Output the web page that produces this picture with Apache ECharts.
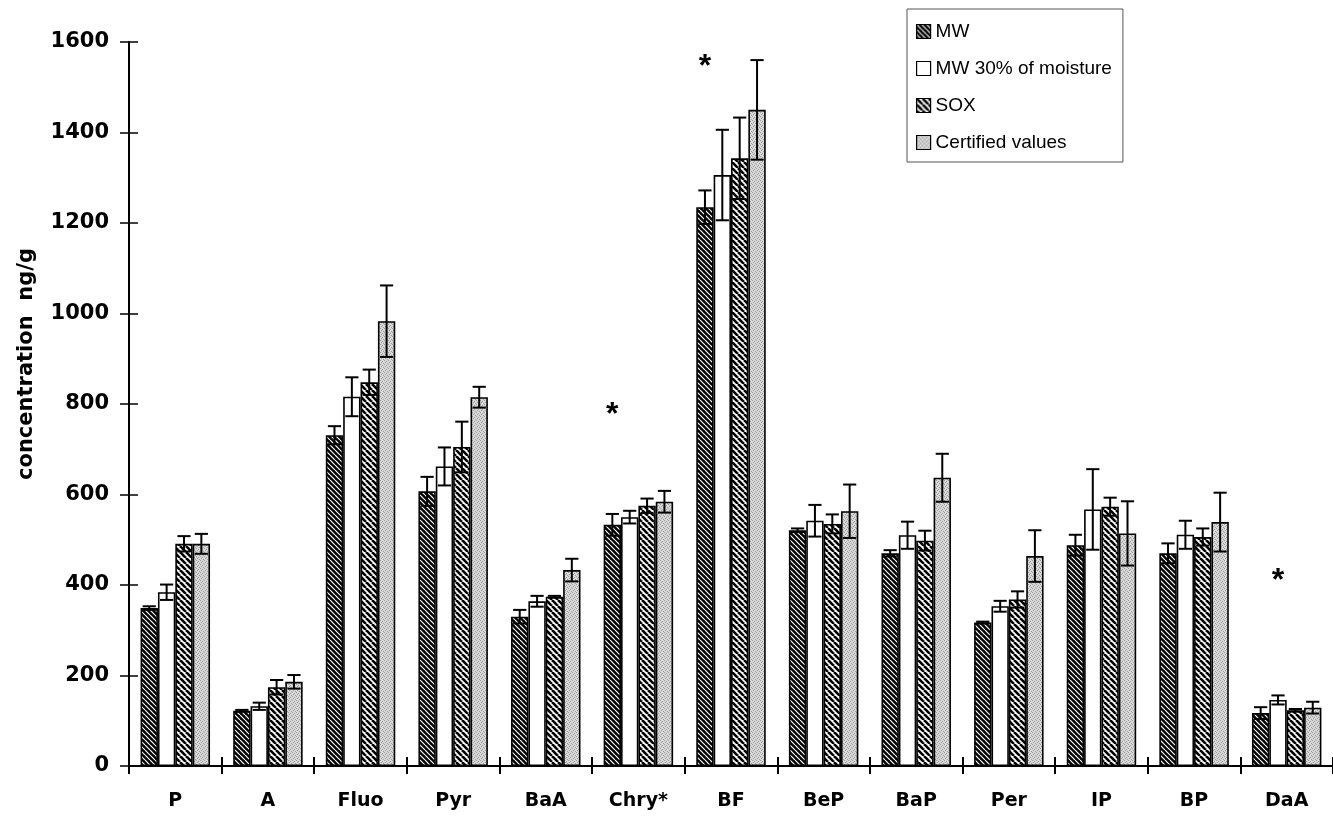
<!DOCTYPE html>
<html>
<head>
<meta charset="utf-8">
<script src="https://cdn.jsdelivr.net/npm/echarts@6/dist/echarts.min.js"></script>
<style>
  html, body { margin: 0; padding: 0; background: #fff; }
  #chart { width: 1333px; height: 817px; }
</style>
</head>
<body>
<div id="chart"></div>
<script>
// PAH concentrations (ng/g) by extraction method, with standard deviations
const categories = ['P', 'A', 'Fluo', 'Pyr', 'BaA', 'Chry*', 'BF', 'BeP', 'BaP', 'Per', 'IP', 'BP', 'DaA'];
const seriesNames = ['MW', 'MW 30% of moisture', 'SOX', 'Certified values'];

const mwValues    = [349, 122, 731, 607, 330, 533, 1235, 521, 470, 317, 488, 470, 117];
const mwErrors    = [4, 2, 20, 32, 15, 24, 37, 4, 7, 2, 23, 22, 13];
const moistValues = [384, 132, 816, 662, 364, 550, 1306, 542, 510, 353, 567, 511, 146];
const moistErrors = [17, 8, 43, 42, 12, 14, 100, 35, 30, 12, 89, 31, 10];
const soxValues   = [491, 174, 848, 705, 374, 575, 1343, 535, 498, 368, 573, 506, 123];
const soxErrors   = [17, 16, 28, 56, 2, 16, 90, 21, 22, 18, 20, 19, 3];
const certValues  = [491, 186, 983, 815, 433, 584, 1450, 563, 637, 464, 514, 539, 129];
const certErrors  = [22, 15, 79, 23, 25, 24, 110, 59, 53, 57, 71, 65, 13];

// significance markers: category, bar series it sits over, height (ng/g)
const starCategories = ['Chry*', 'BF', 'DaA'];
const starSeries     = [0, 0, 1];
const starLevels     = [790, 1560, 424];

const CAT_GAP = 0.25;
const N_BARS = 4;
const STAR_SIZE = 32;

// ---- fill patterns ----
function stripes(bg, fg, period, lw) {
  const c = document.createElement('canvas');
  c.width = c.height = period;
  const ctx = c.getContext('2d');
  ctx.fillStyle = bg;
  ctx.fillRect(0, 0, period, period);
  ctx.strokeStyle = fg;
  ctx.lineWidth = lw;
  for (const o of [-period, 0, period]) {
    ctx.beginPath();
    ctx.moveTo(o, 0);
    ctx.lineTo(o + period, period);
    ctx.stroke();
  }
  return c;
}
function stipple() {
  const c = document.createElement('canvas');
  c.width = c.height = 4;
  const ctx = c.getContext('2d');
  ctx.fillStyle = '#d8d8d8';
  ctx.fillRect(0, 0, 4, 4);
  ctx.fillStyle = '#9c9c9c';
  [[0, 0], [2, 1], [1, 2], [3, 3]].forEach(p => ctx.fillRect(p[0], p[1], 1, 1));
  return c;
}
const fills = [
  { image: stripes('#000', '#fff', 5, 1.2), repeat: 'repeat' },
  '#ffffff',
  { image: stripes('#fff', '#000', 6, 2.6), repeat: 'repeat' },
  { image: stipple(), repeat: 'repeat' }
];

const values = [mwValues, moistValues, soxValues, certValues];
const errors = [mwErrors, moistErrors, soxErrors, certErrors];

function slotX(api, catIdx, value, slot) {
  const band = api.size([1, 0])[0];
  const groupW = band * (1 - CAT_GAP);
  const barW = groupW / N_BARS;
  const cx = api.coord([catIdx, value])[0] - groupW / 2 + barW * slot;
  return { cx, barW };
}

function errorRenderer(k) {
  return function (params, api) {
    const i = api.value(0), v = api.value(1), e = api.value(2);
    const { cx, barW } = slotX(api, i, v, k + 0.5);
    const top = api.coord([i, v + e])[1];
    const bot = api.coord([i, v - e])[1];
    const half = barW * 0.38;
    const st = { stroke: '#000', lineWidth: 2 };
    return {
      type: 'group',
      children: [
        { type: 'line', shape: { x1: cx, y1: top, x2: cx, y2: bot }, style: st },
        { type: 'line', shape: { x1: cx - half, y1: top, x2: cx + half, y2: top }, style: st },
        { type: 'line', shape: { x1: cx - half, y1: bot, x2: cx + half, y2: bot }, style: st }
      ]
    };
  };
}

const barSeries = seriesNames.map((name, k) => ({
  name,
  type: 'bar',
  data: values[k],
  barGap: '0%',
  barCategoryGap: (CAT_GAP * 100) + '%',
  itemStyle: { color: fills[k], borderColor: '#000', borderWidth: 1.6 },
  z: 2
}));

const errSeries = seriesNames.map((name, k) => ({
  name: name + ' sd',
  type: 'custom',
  renderItem: errorRenderer(k),
  data: values[k].map((v, i) => [i, v, errors[k][i]]),
  encode: { x: 0, y: 1 },
  silent: true,
  z: 5
}));

const starSeriesDef = {
  name: 'significance',
  type: 'custom',
  silent: true,
  z: 6,
  data: starCategories.map((c, j) => [categories.indexOf(c), starLevels[j], starSeries[j]]),
  encode: { x: 0, y: 1 },
  renderItem: function (params, api) {
    const i = api.value(0), v = api.value(1), s = api.value(2);
    const { cx } = slotX(api, i, v, s + 0.5);
    // the asterisk glyph sits high in its em box; drop it so its centre lands on the level
    const y = api.coord([i, v])[1] + STAR_SIZE * 0.22;
    return {
      type: 'text',
      x: cx, y: y,
      style: {
        text: '*', fill: '#000',
        font: 'bold ' + STAR_SIZE + 'px "Liberation Sans", sans-serif',
        align: 'center', verticalAlign: 'middle'
      }
    };
  }
};

const chart = echarts.init(document.getElementById('chart'));
chart.setOption({
  backgroundColor: '#ffffff',
  animation: false,
  grid: { left: 129, top: 42, width: 1213, height: 724 },
  legend: {
    data: seriesNames,
    orient: 'vertical',
    left: 907, top: 9,
    padding: [13, 11, 10, 9],
    itemGap: 18,
    itemWidth: 14, itemHeight: 14,
    icon: 'rect',
    borderColor: '#555', borderWidth: 1,
    itemStyle: { borderColor: '#000', borderWidth: 1.2 },
    textStyle: { fontFamily: '"Liberation Sans", Arial, sans-serif', fontSize: 19, color: '#000' }
  },
  xAxis: [
    {
      type: 'category', data: categories, position: 'bottom',
      axisLine: { lineStyle: { color: '#000', width: 2 } },
      axisTick: { show: true, length: 8, lineStyle: { color: '#000', width: 2 } },
      axisLabel: {
        margin: 26, color: '#000', fontSize: 19, fontWeight: 'bold',
        fontFamily: '"DejaVu Sans", sans-serif'
      },
      splitLine: { show: false }
    },
    {
      type: 'category', data: categories, position: 'bottom',
      axisLine: { show: false },
      axisTick: { show: true, inside: true, length: 9, lineStyle: { color: '#000', width: 2 } },
      axisLabel: { show: false },
      splitLine: { show: false }
    }
  ],
  yAxis: [
    {
      type: 'value', min: 0, max: 1600, interval: 200,
      name: 'concentration  ng/g',
      nameLocation: 'middle', nameGap: 92,
      nameTextStyle: {
        fontFamily: '"DejaVu Sans", sans-serif', fontSize: 21,
        fontWeight: 'bold', color: '#000', padding: [0, 0, 0, 80]
      },
      axisLine: { show: true, lineStyle: { color: '#000', width: 2 } },
      axisTick: { show: true, length: 9, lineStyle: { color: '#000', width: 1.5 } },
      axisLabel: {
        margin: 20, color: '#000', fontSize: 21, fontWeight: 'bold',
        fontFamily: '"DejaVu Sans", sans-serif',
        formatter: v => String(v)
      },
      splitLine: { show: false }
    },
    {
      type: 'value', min: 0, max: 1600, interval: 200, position: 'left',
      axisLine: { show: false },
      axisTick: { show: true, inside: true, length: 9, lineStyle: { color: '#000', width: 1.5 } },
      axisLabel: { show: false },
      splitLine: { show: false }
    }
  ],
  series: [...barSeries, ...errSeries, starSeriesDef]
});
</script>
</body>
</html>
